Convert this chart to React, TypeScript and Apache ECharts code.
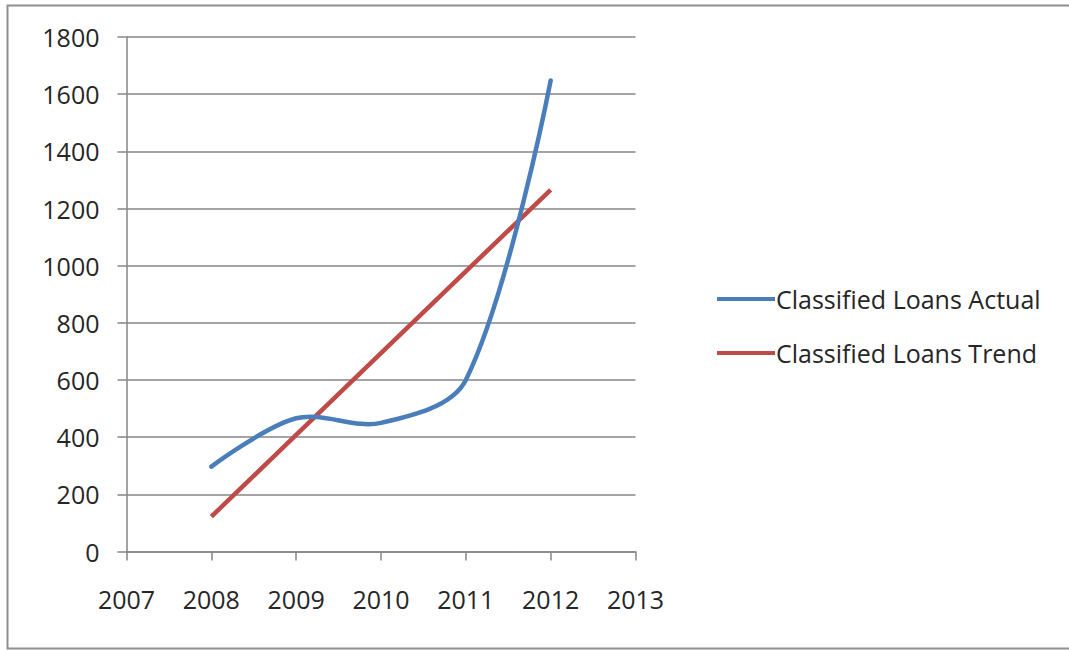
import React, { useEffect, useRef } from "react";
import * as echarts from "echarts";

// Years on the horizontal value axis
const yearTicks = [2007, 2008, 2009, 2010, 2011, 2012, 2013];
const years = [2008, 2009, 2010, 2011, 2012];
// Classified loans, actual vs. linear trend
const actualValues = [297, 466, 450, 600, 1648];
const trendValues = [122, 408, 694, 980, 1265];
const valueTicks = [0, 200, 400, 600, 800, 1000, 1200, 1400, 1600, 1800];

const FONT = "'Open Sans', Lato, sans-serif";
const TEXT = "#262626";
const AXIS = "#868686";
const BLUE = "#4a7ebb";
const RED = "#be4b48";
const TENSION = 1 / 3;

// Cubic path through screen points; tangents are split by chord length,
// without clamping, so the curve may overshoot slightly like a spreadsheet spline.
function smoothPath(pts: number[][]): string {
  const n = pts.length;
  const cpIn: number[][] = [];
  const cpOut: number[][] = [];
  for (let i = 0; i < n; i++) {
    const p = pts[i];
    if (i === 0 || i === n - 1) {
      cpIn.push(p);
      cpOut.push(p);
      continue;
    }
    const prev = pts[i - 1];
    const next = pts[i + 1];
    const vx = next[0] - prev[0];
    const vy = next[1] - prev[1];
    const lp = Math.hypot(p[0] - prev[0], p[1] - prev[1]);
    const ln = Math.hypot(next[0] - p[0], next[1] - p[1]);
    const rn = ln / (lp + ln);
    const rp = 1 - rn;
    cpIn.push([p[0] - vx * TENSION * rp, p[1] - vy * TENSION * rp]);
    cpOut.push([p[0] + vx * TENSION * rn, p[1] + vy * TENSION * rn]);
  }
  let d = `M${pts[0][0]},${pts[0][1]}`;
  for (let i = 0; i < n - 1; i++) {
    const a = cpOut[i];
    const b = cpIn[i + 1];
    const e = pts[i + 1];
    d += ` C${a[0]},${a[1]} ${b[0]},${b[1]} ${e[0]},${e[1]}`;
  }
  return d;
}

export default function App() {
  const ref = useRef<HTMLDivElement>(null);

  useEffect(() => {
    if (!ref.current) return;
    const chart = echarts.init(ref.current, undefined, { renderer: "svg" });
    const pair = (vals: number[]) => years.map((y, i) => [y, vals[i]]);
    chart.setOption({
      animation: false,
      backgroundColor: "#ffffff",
      textStyle: { fontFamily: FONT },
      grid: { left: 126.5, right: 1069 - 635.5, top: 37, bottom: 650 - 551.5, containLabel: false },
      xAxis: {
        type: "value",
        min: yearTicks[0],
        max: yearTicks[yearTicks.length - 1],
        interval: 1,
        axisLine: { show: true, lineStyle: { color: AXIS, width: 1.5 } },
        axisTick: { show: true, length: 9, inside: false, lineStyle: { color: AXIS, width: 1.5 } },
        splitLine: { show: false },
        axisLabel: {
          color: TEXT,
          fontSize: 25,
          fontFamily: FONT,
          margin: 35,
          formatter: (v: number) => String(v),
        },
      },
      yAxis: {
        type: "value",
        min: valueTicks[0],
        max: valueTicks[valueTicks.length - 1],
        interval: 200,
        axisLine: { show: true, lineStyle: { color: AXIS, width: 1.5 } },
        axisTick: { show: true, length: 9, lineStyle: { color: AXIS, width: 1.5 } },
        splitLine: { show: true, lineStyle: { color: AXIS, width: 1.5 } },
        axisLabel: {
          color: TEXT,
          fontSize: 25,
          fontFamily: FONT,
          margin: 27,
          formatter: (v: number) => String(v),
        },
      },
      legend: {
        orient: "vertical",
        left: 712,
        top: 280,
        itemWidth: 58,
        itemHeight: 4,
        itemGap: 26,
        icon: "rect",
        textStyle: { color: TEXT, fontSize: 25, lineHeight: 28, fontFamily: FONT, padding: [0, 0, 0, -4] },
        data: ["Classified Loans Actual", "Classified Loans Trend"],
      },
      graphic: [
        {
          type: "rect",
          shape: { x: 7.5, y: 5.5, width: 1100, height: 643 },
          style: { fill: "none", stroke: "#8f8f8f", lineWidth: 2 },
          silent: true,
          z: 100,
        },
      ],
      series: [
        {
          name: "Classified Loans Actual",
          type: "custom",
          data: pair(actualValues),
          encode: { x: 0, y: 1 },
          itemStyle: { color: BLUE },
          z: 3,
          renderItem: (params: any, api: any) => {
            if (params.dataIndex !== 0) return null;
            const pts = years.map((y, i) => api.coord([y, actualValues[i]]));
            return {
              type: "path",
              shape: { pathData: smoothPath(pts) },
              style: { fill: "none", stroke: BLUE, lineWidth: 4.5, lineCap: "round", lineJoin: "round" },
            };
          },
        },
        {
          name: "Classified Loans Trend",
          type: "line",
          data: pair(trendValues),
          showSymbol: false,
          symbol: "none",
          z: 2,
          lineStyle: { color: RED, width: 4.5 },
          itemStyle: { color: RED },
        },
      ],
    });
    return () => chart.dispose();
  }, []);

  return (
    <div
      ref={ref}
      style={{ position: "fixed", left: 0, top: 0, width: 1069, height: 650 }}
    />
  );
}
